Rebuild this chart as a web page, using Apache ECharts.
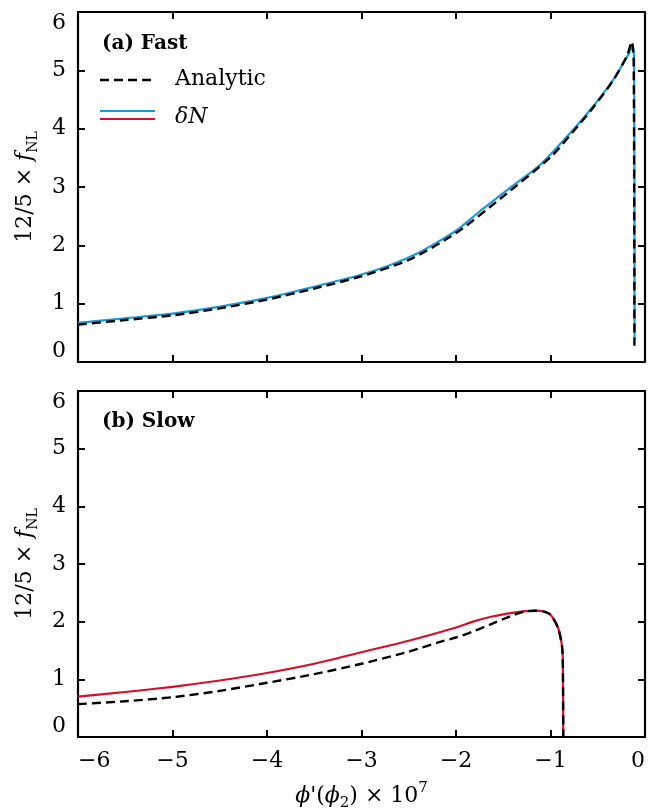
<!DOCTYPE html>
<html>
<head>
<meta charset="utf-8">
<title>fNL: fast and slow</title>
<script src="https://cdn.jsdelivr.net/npm/echarts@6/dist/echarts.min.js"></script>
<style>
  html, body { margin: 0; padding: 0; background: #fff; }
  #chart { width: 668px; height: 812px; }
</style>
</head>
<body>
<div id="chart"></div>
<script>
// values
const xRange = [-6, 0];
const yRange = [0, 6];

// (a) Fast
const fastDeltaNX = [-6, -5.5, -5, -4.5, -4, -3.5, -3, -2.7, -2.4, -2.17, -2, -1.75, -1.4, -1.11, -0.76, -0.55, -0.34, -0.19, -0.13, -0.115, -0.11];
const fastDeltaNY = [0.67, 0.75, 0.83, 0.95, 1.10, 1.29, 1.50, 1.66, 1.87, 2.08, 2.25, 2.58, 3.02, 3.38, 3.98, 4.38, 4.83, 5.23, 5.41, 5.1, 0.40];
const fastAnalyticX = [-6, -5.5, -5, -4.5, -4, -3.5, -3, -2.5, -2, -1.5, -1, -0.76, -0.55, -0.34, -0.19, -0.14, -0.12, -0.112];
const fastAnalyticY = [0.64, 0.72, 0.80, 0.92, 1.07, 1.26, 1.47, 1.75, 2.21, 2.84, 3.51, 3.95, 4.36, 4.82, 5.25, 5.49, 5.2, 0.28];

// (b) Slow
const slowDeltaNX = [-6, -5.5, -5, -4.5, -4, -3.5, -3, -2.5, -2, -1.82, -1.64, -1.46, -1.29, -1.16, -1.08, -1.0, -0.92, -0.88, -0.87, -0.865];
const slowDeltaNY = [0.70, 0.78, 0.87, 0.98, 1.11, 1.27, 1.47, 1.67, 1.90, 2.00, 2.08, 2.14, 2.18, 2.19, 2.18, 2.12, 1.89, 1.60, 1.37, 0];
const slowAnalyticX = [-6, -5.5, -5, -4.5, -4, -3.5, -3, -2.5, -2.17, -1.99, -1.82, -1.64, -1.46, -1.29, -1.16, -1.08, -1.0, -0.92, -0.88, -0.87, -0.865];
const slowAnalyticY = [0.57, 0.62, 0.69, 0.80, 0.94, 1.09, 1.27, 1.48, 1.65, 1.73, 1.83, 1.95, 2.07, 2.17, 2.19, 2.18, 2.12, 1.89, 1.60, 1.37, 0];

const panelTitles = ["(a) Fast", "(b) Slow"];
const legendNames = ["Analytic", "δN"];

const FONT = "DejaVu Serif";
const BLUE = "#1b9bd3";
const RED = "#d0102e";

const zip = (xs, ys) => xs.map((x, i) => [x, ys[i]]);
const minus = v => (v < 0 ? "\u2212" + Math.abs(v) : String(v));

const tick = { show: true, inside: true, length: 7, lineStyle: { color: "#000", width: 2 } };
const line = { show: true, onZero: false, lineStyle: { color: "#000", width: 2.2 } };

function xAxes(gridIndex, labels) {
  const base = { type: "value", gridIndex, min: xRange[0], max: xRange[1], interval: 1, splitLine: { show: false } };
  return [
    {
      ...base, position: "bottom", axisLine: line, axisTick: tick,
      axisLabel: {
        show: labels, formatter: minus, color: "#000", fontFamily: FONT, fontSize: 22, margin: 13,
        alignMinLabel: "left", alignMaxLabel: "right"
      },
      name: labels ? "{i|ϕ}{n|'(}{i|ϕ}{s|2}{n|) × 10}{p|7}" : "",
      nameLocation: "middle", nameGap: 44,
      nameTextStyle: {
        color: "#000",
        rich: {
          i: { fontFamily: FONT, fontStyle: "italic", fontSize: 22, lineHeight: 30 },
          n: { fontFamily: FONT, fontSize: 22, lineHeight: 30 },
          s: { fontFamily: FONT, fontSize: 15, lineHeight: 18, verticalAlign: "bottom" },
          p: { fontFamily: FONT, fontSize: 15, lineHeight: 20, verticalAlign: "top" }
        }
      }
    },
    { ...base, position: "top", axisLine: line, axisTick: tick, axisLabel: { show: false } }
  ];
}

function yAxes(gridIndex) {
  const base = { type: "value", gridIndex, min: yRange[0], max: yRange[1], interval: 1, splitLine: { show: false } };
  return [
    {
      ...base, position: "left", axisLine: line, axisTick: tick,
      axisLabel: {
        color: "#000", fontFamily: FONT, fontSize: 22, margin: 12,
        verticalAlignMinLabel: "bottom", verticalAlignMaxLabel: "top"
      },
      name: "{n|12/5 × }{i|f}{s|NL}",
      nameLocation: "middle", nameGap: 38, nameRotate: 90,
      nameTextStyle: {
        color: "#000",
        rich: {
          n: { fontFamily: FONT, fontSize: 22, lineHeight: 30 },
          i: { fontFamily: FONT, fontStyle: "italic", fontSize: 22, lineHeight: 30 },
          s: { fontFamily: FONT, fontSize: 14, lineHeight: 18, verticalAlign: "bottom" }
        }
      }
    },
    { ...base, position: "right", axisLine: line, axisTick: tick, axisLabel: { show: false } }
  ];
}

function curve(data, axis, color, dashed) {
  return {
    type: "line", data, xAxisIndex: axis, yAxisIndex: axis,
    showSymbol: false, silent: true, animation: false,
    smooth: 0.25,
    z: dashed ? 3 : 2,
    lineStyle: { color, width: dashed ? 2.4 : 2.2, type: dashed ? [9, 5] : "solid", join: "round" }
  };
}

const chart = echarts.init(document.getElementById("chart"), null, { renderer: "canvas" });

chart.setOption({
  backgroundColor: "#fff",
  animation: false,
  grid: [
    { left: 78, right: 23, top: 12, height: 350 },
    { left: 78, right: 23, top: 391, height: 349 }
  ],
  xAxis: [...xAxes(0, false), ...xAxes(1, true)],
  yAxis: [...yAxes(0), ...yAxes(1)],
  series: [
    curve(zip(fastDeltaNX, fastDeltaNY), 0, BLUE, false),
    curve(zip(fastAnalyticX, fastAnalyticY), 0, "#000", true),
    curve(zip(slowDeltaNX, slowDeltaNY), 2, RED, false),
    curve(zip(slowAnalyticX, slowAnalyticY), 2, "#000", true)
  ],
  graphic: [
    { type: "text", x: 102, y: 44, style: { text: panelTitles[0], fill: "#000", font: `bold 20px "${FONT}"`, verticalAlign: "middle" } },
    { type: "line", shape: { x1: 100, y1: 80, x2: 154, y2: 80 }, style: { stroke: "#000", lineWidth: 2.4, lineDash: [9, 5] } },
    { type: "text", x: 175, y: 79, style: { text: legendNames[0], fill: "#000", font: `22px "${FONT}"`, verticalAlign: "middle" } },
    { type: "line", shape: { x1: 100, y1: 111, x2: 155, y2: 111 }, style: { stroke: BLUE, lineWidth: 2.2 } },
    { type: "line", shape: { x1: 100, y1: 119, x2: 155, y2: 119 }, style: { stroke: RED, lineWidth: 2.2 } },
    { type: "text", x: 175, y: 117, style: { text: legendNames[1], fill: "#000", font: `italic 22px "${FONT}"`, verticalAlign: "middle" } },
    { type: "text", x: 102, y: 422, style: { text: panelTitles[1], fill: "#000", font: `bold 20px "${FONT}"`, verticalAlign: "middle" } }
  ]
});
</script>
</body>
</html>
